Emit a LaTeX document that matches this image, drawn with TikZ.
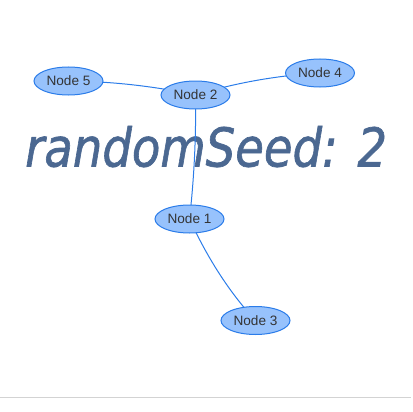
\documentclass[tikz,border=0pt]{standalone}
\usepackage{fontspec}
\setmainfont{Liberation Sans}
\newfontfamily\titlefont{DejaVu Sans}[ItalicFeatures={FakeBold=1.3}]
\usetikzlibrary{shapes.geometric,calc}
\pgfdeclarelayer{bglayer}
\pgfdeclarelayer{edgelayer}
\pgfsetlayers{bglayer,edgelayer,main}
\definecolor{nodefill}{HTML}{97C2FC}
\definecolor{nodeborder}{HTML}{2B7CE9}
\definecolor{labelcol}{HTML}{343434}
\definecolor{titlecol}{RGB}{75,104,145}
\definecolor{rulecol}{HTML}{D3D3D3}
\tikzset{
  visnode/.style={ellipse, draw=nodeborder, fill=nodefill, line width=1pt,
    minimum width=69pt, minimum height=28pt, inner sep=0pt,
    text=labelcol, font=\fontsize{13.6}{14}\selectfont},
  visedge/.style={draw=nodeborder, line width=1pt},
  titletext/.style={anchor=base west, inner sep=0pt, text=titlecol,
    font=\titlefont\itshape\fontsize{53.5}{54}\selectfont, xscale=0.87}
}
\begin{document}
\begin{tikzpicture}[x=1pt,y=-1pt]
\useasboundingbox (0,0) rectangle (412,412);
\begin{pgfonlayer}{bglayer}
\node[titletext] (title) at (25,166.5) {randomSeed: 2};
\coordinate (rl) at (0,397.5);
\coordinate (rr) at (411,397.5);
\draw[rulecol, line width=1pt] (rl) -- (rr);
\end{pgfonlayer}
\node[visnode] (n5) at (68.5,81) {Node 5};
\node[visnode] (n2) at (195.5,95) {Node 2};
\node[visnode] (n4) at (320,73) {Node 4};
\node[visnode] (n1) at (189.5,219) {Node 1};
\node[visnode] (n3) at (255.5,320.5) {Node 3};
\coordinate (c52) at (132,81.5);
\coordinate (c24) at (256.2,76.6);
\coordinate (c21) at (196.5,157);
\coordinate (c13) at (217.4,279.5);
\begin{pgfonlayer}{edgelayer}
\draw[visedge] (n5.center) .. controls ($(n5.center)!2/3!(c52)$) and ($(n2.center)!2/3!(c52)$) .. (n2.center);
\draw[visedge] (n2.center) .. controls ($(n2.center)!2/3!(c24)$) and ($(n4.center)!2/3!(c24)$) .. (n4.center);
\draw[visedge] (n2.center) .. controls ($(n2.center)!2/3!(c21)$) and ($(n1.center)!2/3!(c21)$) .. (n1.center);
\draw[visedge] (n1.center) .. controls ($(n1.center)!2/3!(c13)$) and ($(n3.center)!2/3!(c13)$) .. (n3.center);
\end{pgfonlayer}
\end{tikzpicture}
\end{document}
